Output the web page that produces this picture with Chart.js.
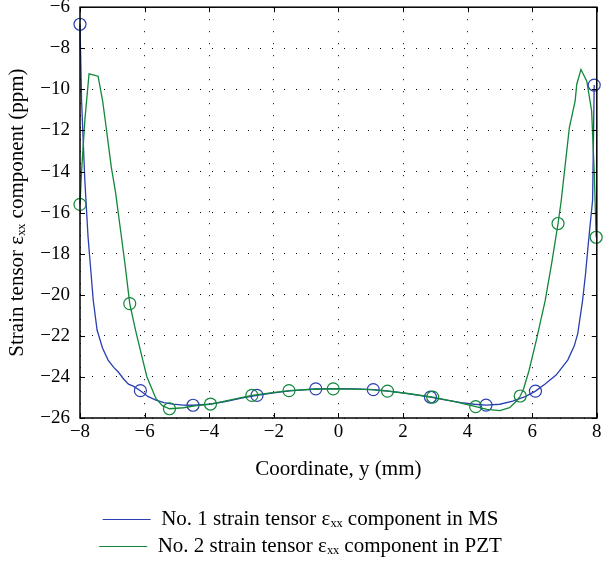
<!DOCTYPE html>
<html>
  <head>
    <title>Strain tensor exx component</title>
    <script src="https://cdn.jsdelivr.net/npm/chart.js@4.4.0/dist/chart.umd.min.js"></script>
    <style>
      html, body { margin: 0; padding: 0; background: #fff; }
      #box { width: 604px; height: 561px; }
    </style>
  </head>
  <body>

    <div id="box"><canvas id="strainChart"></canvas></div>

    <script>
      // Values (coordinate in mm, strain in ppm)
      const msX = [-8, -7.95, -7.85, -7.75, -7.59, -7.47, -7.3, -7.13, -6.95, -6.82, -6.65, -6.5, -6.35, -6.13, -5.9, -5.65, -5.4, -5.13, -4.8, -4.5, -4.0, -3.5, -3.0, -2.52, -2.0, -1.5, -1.0, -0.7, 0, 0.5, 1.08, 1.5, 2.0, 2.5, 2.85, 3.3, 3.8, 4.2, 4.57, 5.0, 5.4, 5.8, 6.1, 6.4, 6.74, 7.1, 7.3, 7.41, 7.56, 7.65, 7.72, 7.8, 7.87, 7.92];
      const msY = [-6.83, -10.6, -14.45, -17.2, -20.27, -21.73, -22.6, -23.18, -23.55, -23.75, -24.1, -24.35, -24.45, -24.67, -24.95, -25.13, -25.25, -25.32, -25.37, -25.38, -25.33, -25.2, -25.03, -24.9, -24.78, -24.68, -24.62, -24.58, -24.57, -24.58, -24.62, -24.68, -24.78, -24.9, -24.98, -25.12, -25.25, -25.33, -25.37, -25.33, -25.18, -24.95, -24.69, -24.35, -23.91, -23.18, -22.5, -21.89, -20.27, -19.0, -17.8, -16.5, -15.4, -9.79];
      const msMarks = [-8, -6.13, -4.5, -2.52, -0.7, 1.08, 2.85, 4.57, 6.1, 7.92];

      const pztX = [-8, -7.95, -7.85, -7.72, -7.44, -7.3, -7.23, -7.03, -6.9, -6.75, -6.6, -6.46, -6.28, -6.1, -5.93, -5.65, -5.45, -5.23, -4.8, -4.4, -3.96, -3.3, -2.68, -2.1, -1.53, -0.8, -0.16, 0.5, 1.0, 1.52, 2.2, 2.92, 3.6, 4.25, 4.6, 5.0, 5.3, 5.5, 5.63, 5.73, 5.9, 6.13, 6.4, 6.6, 6.8, 6.9, 7.15, 7.33, 7.38, 7.51, 7.69, 7.84, 7.92, 7.98];
      const pztY = [-15.6, -13.96, -11.5, -9.24, -9.36, -10.56, -11.37, -13.8, -15.0, -16.8, -18.6, -20.43, -21.73, -22.9, -23.99, -25.05, -25.4, -25.55, -25.5, -25.4, -25.32, -25.1, -24.9, -24.78, -24.67, -24.6, -24.58, -24.59, -24.62, -24.69, -24.82, -24.98, -25.2, -25.45, -25.58, -25.64, -25.5, -25.2, -24.93, -24.6, -23.7, -22.2, -20.3, -18.5, -16.53, -15.4, -11.86, -10.56, -9.75, -9.03, -9.6, -11.05, -14.0, -17.2];
      const pztMarks = [-8, -6.46, -5.23, -3.96, -2.68, -1.53, -0.16, 1.52, 2.92, 4.25, 5.63, 6.8, 7.98];

      const xTicks = [-8, -6, -4, -2, 0, 2, 4, 6, 8];
      const yTicks = [-26, -24, -22, -20, -18, -16, -14, -12, -10, -8, -6];

      const seriesNames = [
        "No. 1 strain tensor \u03b5\u2093\u2093 component in MS",
        "No. 2 strain tensor \u03b5\u2093\u2093 component in PZT"
      ];

      const BLUE = "#2a3fb0";
      const GREEN = "#11873a";
      const SERIF = "'Liberation Serif', 'Times New Roman', serif";

      // minus sign like the print
      const fmt = v => (v < 0 ? "\u2212" + Math.abs(v) : String(v));

      // solid box and inward ticks on all four sides
      const framePlugin = {
        id: "frame",
        afterDraw(chart) {
          const { ctx, chartArea: a, scales: { x, y } } = chart;
          ctx.save();
          ctx.strokeStyle = "#000";
          ctx.lineWidth = 1;
          ctx.beginPath();
          xTicks.forEach(v => {
            const px = Math.round(x.getPixelForValue(v)) + 0.5;
            ctx.moveTo(px, a.bottom); ctx.lineTo(px, a.bottom - 5);
            ctx.moveTo(px, a.top); ctx.lineTo(px, a.top + 5);
          });
          yTicks.forEach(v => {
            const py = Math.round(y.getPixelForValue(v)) + 0.5;
            ctx.moveTo(a.left, py); ctx.lineTo(a.left + 5, py);
            ctx.moveTo(a.right, py); ctx.lineTo(a.right - 5, py);
          });
          ctx.stroke();
          ctx.lineWidth = 1.5;
          ctx.strokeRect(a.left, a.top, a.right - a.left, a.bottom - a.top);
          ctx.restore();
        }
      };

      function makeSet(label, xs, ys, marks, color, order) {
        return {
          label: label,
          data: xs.map((x, i) => ({ x: x, y: ys[i] })),
          borderColor: color,
          backgroundColor: "rgba(0,0,0,0)",
          borderWidth: 1.3,
          tension: 0,
          clip: false,
          order: order,
          pointRadius: c => (c.raw && marks.includes(c.raw.x) ? 6 : 0),
          pointHoverRadius: 0,
          pointBorderWidth: 1.2,
          pointBorderColor: color,
          pointBackgroundColor: "rgba(0,0,0,0)"
        };
      }

      const ctx = document.getElementById("strainChart").getContext("2d");

      const chart = new Chart(ctx, {
        type: "line",
        data: {
          datasets: [
            makeSet(seriesNames[0], msX, msY, msMarks, BLUE, 1),
            makeSet(seriesNames[1], pztX, pztY, pztMarks, GREEN, 0)
          ]
        },
        options: {
          responsive: true,
          maintainAspectRatio: false,
          animation: false,
          events: [],
          layout: { padding: { top: 6, right: 3, bottom: -6, left: 0 } },
          scales: {
            x: {
              type: "linear",
              min: -8,
              max: 8,
              afterBuildTicks: s => { s.ticks = xTicks.map(v => ({ value: v })); },
              afterFit: s => { s.height = 85; s.paddingLeft = 0; s.paddingRight = 0; },
              ticks: { autoSkip: false, maxRotation: 0, padding: 3, color: "#000", font: { family: SERIF, size: 19 }, callback: fmt },
              grid: { color: "#000", lineWidth: 1, drawTicks: false },
              border: { display: false, dash: [1, 11] },
              title: { display: true, text: "Coordinate, y (mm)", color: "#000", font: { family: SERIF, size: 21 }, padding: { top: 0, bottom: 21 } }
            },
            y: {
              type: "linear",
              min: -26,
              max: -6,
              afterBuildTicks: s => { s.ticks = yTicks.map(v => ({ value: v })); },
              afterFit: s => { s.width = 80; s.paddingTop = 0; s.paddingBottom = 0; },
              ticks: { autoSkip: false, padding: 10, color: "#000", font: { family: SERIF, size: 19 }, callback: fmt },
              grid: { color: "#000", lineWidth: 1, drawTicks: false },
              border: { display: false, dash: [1, 11] },
              title: { display: true, text: "Strain tensor \u03b5\u2093\u2093 component (ppm)", color: "#000", font: { family: SERIF, size: 21 }, padding: { top: 5, bottom: 0 } }
            }
          },
          plugins: {
            tooltip: { enabled: false },
            legend: {
              position: "bottom",
              labels: {
                usePointStyle: true,
                pointStyle: "line",
                pointStyleWidth: 48,
                padding: 6,
                color: "#000",
                font: { family: SERIF, size: 21 },
                sort: (a, b) => a.datasetIndex - b.datasetIndex
              }
            }
          }
        },
        plugins: [framePlugin]
      });
    </script>
  </body>
</html>
